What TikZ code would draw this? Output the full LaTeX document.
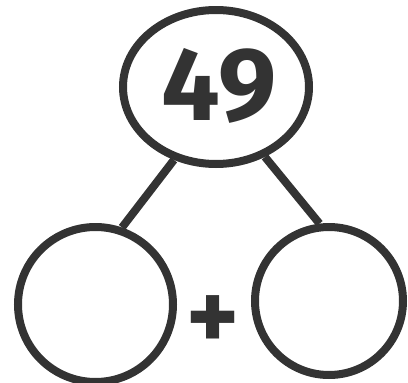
\documentclass[tikz,border=0pt]{standalone}
\usepackage{fontspec}
\setmainfont{Fira Sans}
\usetikzlibrary{shapes.geometric}
\definecolor{ink}{HTML}{333333}
\tikzset{
  part/.style={draw=ink, line width=8pt, circle, minimum size=155pt, inner sep=0pt},
  link/.style={draw=ink, line width=8pt},
}
\begin{document}
\begin{tikzpicture}[x=1pt,y=-1pt]
\useasboundingbox (0,0) rectangle (408,383);
\node[draw=ink, line width=8pt, ellipse, minimum width=186pt, minimum height=154pt, inner sep=0pt] (whole) at (216,87) {};
\node[text=ink, font=\fontsize{104}{104}\selectfont\bfseries, inner sep=0pt] (num) at (219,86) {49};
\node[part] (left) at (95.5,304.5) {};
\node[part, minimum size=148pt] (right) at (329,301) {};
\node[text=ink, font=\fontsize{100}{100}\selectfont\bfseries, inner sep=0pt] (plus) at (213,323) {+};
\draw[link] (whole.240) -- (left.71);
\draw[link] (whole.305) -- (right.97);
\end{tikzpicture}
\end{document}
